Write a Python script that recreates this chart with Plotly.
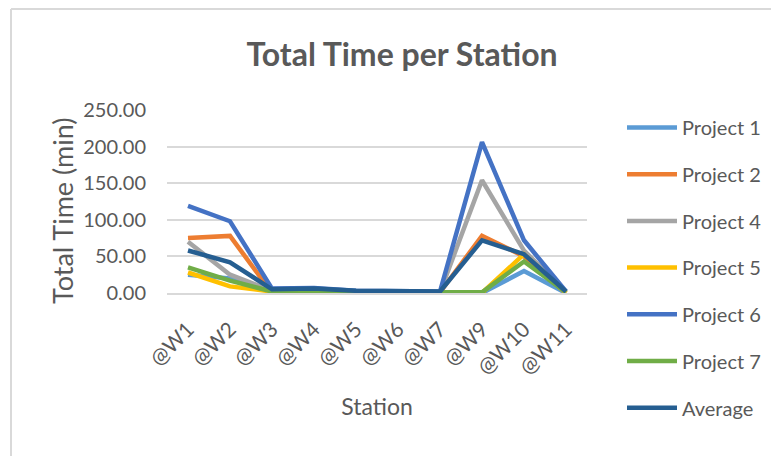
import plotly.graph_objects as go

stations = ["@W1", "@W2", "@W3", "@W4", "@W5", "@W6", "@W7", "@W9", "@W10", "@W11"]
project1 = [25, 20, 2, 3, 2, 1, 1, 0, 30, 0]
project2 = [75, 78, 0, 4, 2, 1, 1, 78, 50, 0]
project4 = [70, 25, 3, 5, 2, 1, 1, 154, 58, 1]
project5 = [28, 9, 2, 3, 2, 1, 1, 0, 53, 0]
project6 = [119, 98, 6, 7, 3, 2, 2, 206, 72, 2]
project7 = [35, 17, 2, 3, 2, 1, 1, 1, 43, 1]
average = [58, 42, 5, 6, 3, 2, 2, 72, 53, 2]

series = [
    ("Project 1", project1, "#5B9BD5"),
    ("Project 2", project2, "#ED7D31"),
    ("Project 4", project4, "#A5A5A5"),
    ("Project 5", project5, "#FFC000"),
    ("Project 6", project6, "#4472C4"),
    ("Project 7", project7, "#70AD47"),
    ("Average", average, "#255E91"),
]

FONT = "Lato"
GRAY = "#595959"
OFF = 8  # page body margin

fig = go.Figure()
for name, vals, color in series:
    fig.add_trace(go.Scatter(
        x=stations, y=vals, name=name, mode="lines",
        line=dict(color=color, width=4.5),
        legendgroup=name,
    ))

# figure size and plot area (screen px minus body offset)
W, H = 779 - OFF, 456 - OFF
L, T = 167 - OFF, 110 - OFF
R = W - (587 - OFF)
B = H - (293 - OFF)
pw = W - L - R
ph = H - T - B

def px(x):
    return (x - OFF - L) / pw

def py(y):
    return (H - B - (y - OFF)) / ph

fig.update_layout(
    width=W, height=H,
    margin=dict(l=L, r=R, t=T, b=B, autoexpand=False),
    paper_bgcolor="white", plot_bgcolor="white",
    font=dict(family=FONT, color=GRAY),
    title=dict(text="<b>Total Time per Station</b>", x=px(402), xref="paper",
               xanchor="center", y=1 - (55 - OFF) / H, yanchor="middle",
               font=dict(size=32, color=GRAY, family=FONT)),
    showlegend=True,
    legend=dict(x=px(622), y=py(108), xanchor="left", yanchor="top",
                font=dict(size=20, color=GRAY, family=FONT),
                tracegroupgap=17.7, traceorder="grouped", maxheight=420,
                itemwidth=50, bgcolor="rgba(0,0,0,0)"),
    xaxis=dict(
        type="category", range=[-0.5, len(stations) - 0.5],
        showgrid=False, showline=True, linecolor="#d9d9d9",
        linewidth=1.5, ticks="", tickangle=-45,
        ticklabelstandoff=14,
        tickfont=dict(size=21, color=GRAY, family=FONT),
        title=dict(text="Station", font=dict(size=23, color=GRAY, family=FONT), standoff=21),
    ),
    yaxis=dict(
        range=[0, 250], dtick=50, tickformat=".2f",
        showgrid=True, gridcolor="#d9d9d9", gridwidth=1.5,
        zeroline=False, showline=False, ticks="",
        ticklabelstandoff=20,
        tickfont=dict(size=20, color=GRAY, family=FONT),
    ),
    annotations=[
        dict(text="Total Time (min)", xref="paper", yref="paper",
             x=px(62), y=py(211), xanchor="center", yanchor="middle",
             textangle=-90, showarrow=False,
             font=dict(size=27, color=GRAY, family=FONT)),
    ],
    shapes=[
        dict(type="line", xref="paper", yref="paper", x0=px(11), x1=px(800),
             y0=py(9), y1=py(9), line=dict(color="#d9d9d9", width=2)),
        dict(type="line", xref="paper", yref="paper", x0=px(11), x1=px(11),
             y0=py(9), y1=py(480), line=dict(color="#d9d9d9", width=2)),
    ],
)

fig.write_html("out.html")
